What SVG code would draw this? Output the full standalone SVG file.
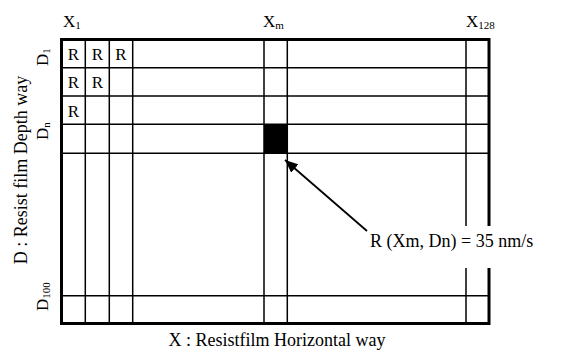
<svg xmlns="http://www.w3.org/2000/svg" width="568" height="352" viewBox="0 0 568 352" font-family="'Liberation Serif', 'Times New Roman', 'DejaVu Serif', serif">
<style>
text{font-family:'Liberation Serif','Times New Roman','DejaVu Serif',serif;fill:#000}
.lbl{font-size:18px}
.ax{font-size:17px}
.sub{font-size:11px}
.cell{font-size:17px;text-anchor:middle}
.g{stroke:#000;stroke-width:1.5;fill:none}
</style>
<defs>
<marker id="ah" viewBox="0 0 13 11" refX="13" refY="5.5" markerWidth="13" markerHeight="11" markerUnits="userSpaceOnUse" orient="auto">
<path d="M0,0 L13,5.5 L0,11 Z" fill="#000"/>
</marker>
</defs>
<rect width="568" height="352" fill="#fff"/>
<g id="grid">
<rect x="264" y="124.3" width="23.3" height="29" fill="#000"/>
<g class="g">
<line x1="85.3" y1="39.5" x2="85.3" y2="323.5"/>
<line x1="109.3" y1="39.5" x2="109.3" y2="323.5"/>
<line x1="132.7" y1="39.5" x2="132.7" y2="323.5"/>
<line x1="264" y1="39.5" x2="264" y2="323.5"/>
<line x1="287.3" y1="39.5" x2="287.3" y2="323.5"/>
<line x1="466" y1="39.5" x2="466" y2="323.5"/>
<line x1="61.5" y1="67.7" x2="489" y2="67.7"/>
<line x1="61.5" y1="96" x2="489" y2="96"/>
<line x1="61.5" y1="124.3" x2="489" y2="124.3"/>
<line x1="61.5" y1="153.3" x2="489" y2="153.3"/>
<line x1="61.5" y1="295.7" x2="489" y2="295.7"/>
</g>
<rect x="61.5" y="39.5" width="427.5" height="284" fill="none" stroke="#000" stroke-width="3"/>
</g>
<g id="cells">
<text class="cell" x="73.5" y="59.5">R</text>
<text class="cell" x="97.3" y="59.5">R</text>
<text class="cell" x="121" y="59.5">R</text>
<text class="cell" x="73.5" y="88">R</text>
<text class="cell" x="97.3" y="88">R</text>
<text class="cell" x="73.5" y="116.5">R</text>
</g>
<g id="x-labels">
<text class="ax" x="63" y="27">X<tspan class="sub" dy="2">1</tspan></text>
<text class="ax" x="263" y="27">X<tspan class="sub" dy="2">m</tspan></text>
<text class="ax" x="466" y="27">X<tspan class="sub" dy="2">128</tspan></text>
</g>
<g id="d-labels">
<text class="ax" transform="translate(48,66) rotate(-90)">D<tspan class="sub" dy="2">1</tspan></text>
<text class="ax" transform="translate(48,140) rotate(-90)">D<tspan class="sub" dy="2">n</tspan></text>
<text class="ax" transform="translate(48,311) rotate(-90)">D<tspan class="sub" dy="2">100</tspan></text>
</g>
<g id="axis-titles">
<text class="lbl" text-anchor="middle" transform="translate(27,170) rotate(-90)">D : Resist film Depth way</text>
<text class="lbl" text-anchor="middle" x="277" y="346">X : Resistfilm Horizontal way</text>
</g>
<g id="callout">
<rect x="368" y="226" width="172" height="42" fill="#fff"/>
<text class="lbl" x="370" y="247">R (Xm, Dn) = 35 nm/s</text>
</g>
<g id="connectors">
<line x1="367" y1="231" x2="285" y2="160" stroke="#000" stroke-width="1.8" marker-end="url(#ah)"/>
</g>
</svg>
